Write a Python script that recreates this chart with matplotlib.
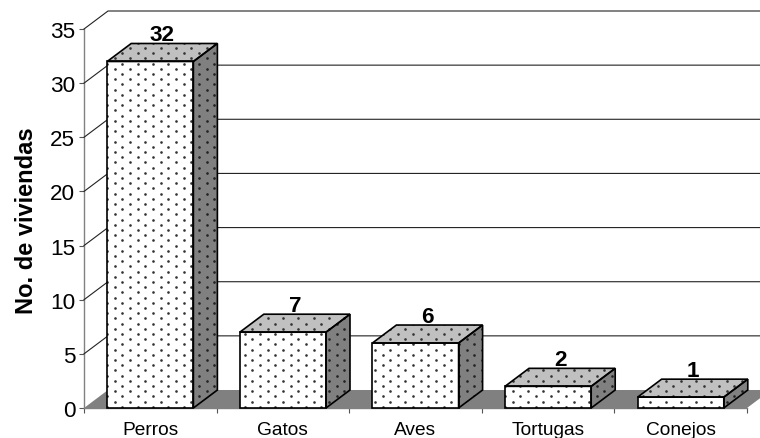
import numpy as np
import matplotlib
matplotlib.use("Agg")
import matplotlib.pyplot as plt
from matplotlib.patches import Polygon
from matplotlib.transforms import ScaledTranslation, IdentityTransform

# Household pets survey
categories = ["Perros", "Gatos", "Aves", "Tortugas", "Conejos"]
viviendas = [32, 7, 6, 2, 1]
y_ticks = [0, 5, 10, 15, 20, 25, 30, 35]

plt.rcParams["font.family"] = ["Liberation Sans", "DejaVu Sans"]
W, H = 760, 439
DPI = 100
fig = plt.figure(figsize=(W / DPI, H / DPI), dpi=DPI, facecolor="white")
ax = fig.add_axes([84 / W, 1 - 409 / H, (747 - 84) / W, (409 - 30) / H])
ax.set_xlim(0, len(categories))
ax.set_ylim(0, 35)
ax.patch.set_visible(False)
for s in ax.spines.values():
    s.set_visible(False)

# oblique projection of the depth axis, in points
DX, DY = 24 * 72 / DPI, 18 * 72 / DPI
GAP = 0.175
back = ax.transData + ScaledTranslation(DX / 72, DY / 72, fig.dpi_scale_trans)

# staggered dot lattice (device pixels) shared by every bar face
DOT_DX, DOT_DY = 15.3, 5.2
rows = np.arange(0, H, DOT_DY)
lattice = np.array([(x + (k % 2) * DOT_DX / 2, y)
                    for k, y in enumerate(rows)
                    for x in np.arange(0, W, DOT_DX)])


def to_back(x, y):
    return back.transform((x, y))


def prism_face(pts_front, pts_back, face, dot_col, zorder):
    """Dotted face spanning front (data) and back (depth-shifted) vertices."""
    pts = [ax.transData.transform(p) for p in pts_front] + [to_back(*p) for p in pts_back]
    fill = Polygon(pts, closed=True, transform=None, facecolor=face, lw=0, zorder=zorder)
    fig.add_artist(fill)
    dots = ax.scatter(lattice[:, 0], lattice[:, 1], s=3.6, c=dot_col, marker="o", linewidths=0,
                      transform=IdentityTransform(), zorder=zorder + 0.05)
    dots.remove()
    fig.add_artist(dots)
    dots.set_clip_path(fill)
    outline = Polygon(pts, closed=True, transform=None, fill=False,
                      edgecolor="black", lw=1.2, joinstyle="miter", zorder=zorder + 0.1)
    fig.add_artist(outline)


# floor
floor = [ax.transData.transform((0, 0)), ax.transData.transform((5, 0)), to_back(5, 0), to_back(0, 0)]
fig.add_artist(Polygon(floor, closed=True, transform=None, facecolor="#808080", lw=0, zorder=1))

# gridlines across the back wall and the side wall
for v in y_ticks:
    if v > 0:
        p0 = ax.transData.transform((0, v))
        p1 = to_back(0, v)
        p2 = to_back(5, v)
        fig.add_artist(plt.Line2D([p0[0], p1[0], p2[0]], [p0[1], p1[1], p2[1]], transform=None,
                                  color="#222222", lw=0.8, zorder=1))

# axis lines and ticks
ax.plot([0, 0], [0, 35], color="#808080", lw=1.0, clip_on=False, zorder=2)
ax.plot([0, 5], [0, 0], color="#808080", lw=1.0, clip_on=False, zorder=2)
ax.set_xticks(range(len(categories) + 1))
ax.set_xticklabels([])
ax.set_yticks(y_ticks)
ax.tick_params(axis="y", length=3.6, width=0.8, color="#555555", labelsize=16.2, pad=2.6)
ax.tick_params(axis="x", length=3.6, width=0.8, color="#555555")
ax.set_ylabel("No. de viviendas", fontsize=17, fontweight="bold", labelpad=8.5)
ax.yaxis.label.set_y(0.497)

# bars; each one is drawn front face, side, top
for i, (name, v) in enumerate(zip(categories, viviendas)):
    l, r = i + GAP, i + 1 - GAP
    z = 3 + i
    prism_face([(l, 0), (r, 0), (r, v), (l, v)], [], "white", "#333333", z)
    prism_face([(r, 0), (r, v)], [(r, v), (r, 0)], "#808080", "#222222", z)
    prism_face([(l, v), (r, v)], [(r, v), (l, v)], "#c0c0c0", "#333333", z)
    ax.annotate(str(v), xy=(i + 0.5, v), xycoords="data",
                xytext=(DX / 2, DY + 2.2), textcoords="offset points",
                ha="center", va="baseline", fontsize=16.2, fontweight="bold", zorder=20,
                annotation_clip=False)
    ax.annotate(name, xy=(i + 0.5, 0), xycoords="data", xytext=(0, -9.5),
                textcoords="offset points", ha="center", va="top", fontsize=13.8,
                annotation_clip=False)

fig.savefig("out.png", dpi=DPI, facecolor="white")
